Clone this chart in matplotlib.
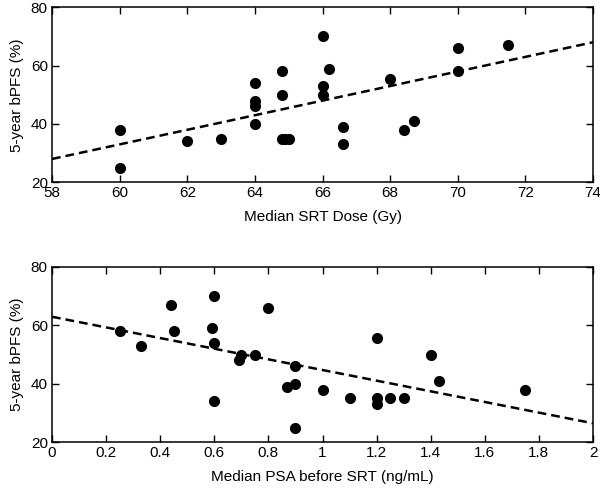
import matplotlib
matplotlib.use("Agg")
import matplotlib.pyplot as plt
import numpy as np

plt.rcParams['font.family'] = ['Liberation Sans', 'DejaVu Sans']

# Top panel: Median SRT dose (Gy) vs 5-year bPFS (%)
dose = [60, 60, 62, 63, 64, 64, 64, 64, 64.8, 64.8, 64.8, 64.9, 65.0,
        66, 66, 66, 66.2, 66.6, 66.6, 68, 68.4, 68.7, 70, 70, 71.5]
bpfs_dose = [38, 25, 34, 35, 54, 48, 46, 40, 58, 50, 35, 35, 35,
             70, 53, 50, 59, 39, 33, 55.5, 38, 41, 66, 58, 67]
dose_fit_slope = 2.5
dose_fit_intercept = -117.0
dose_xlim = [58, 74]
dose_xticks = [58, 60, 62, 64, 66, 68, 70, 72, 74]

# Bottom panel: Median PSA before SRT (ng/mL) vs 5-year bPFS (%)
psa = [0.25, 0.33, 0.44, 0.45, 0.6, 0.59, 0.6, 0.6, 0.8, 0.7, 0.69, 0.75,
       0.9, 0.87, 0.9, 0.9, 1.0, 1.1, 1.2, 1.2, 1.2, 1.25, 1.3, 1.4, 1.43, 1.75]
bpfs_psa = [58, 53, 67, 58, 70, 59, 54, 34, 66, 50, 48, 50,
            46, 39, 40, 25, 38, 35, 55.5, 35, 33, 35, 35, 50, 41, 38]
psa_fit_slope = -18.2
psa_fit_intercept = 62.9
psa_xlim = [0, 2]
psa_xticks = [0, 0.2, 0.4, 0.6, 0.8, 1, 1.2, 1.4, 1.6, 1.8, 2]
psa_xticklabels = ['0', '0.2', '0.4', '0.6', '0.8', '1', '1.2', '1.4', '1.6', '1.8', '2']

yticks = [20, 40, 60, 80]
ylabel = '5-year bPFS (%)'

W, H = 600, 493
fig = plt.figure(figsize=(W / 100, H / 100), dpi=100)

def axbox(l, t, r, b):
    return [l / W, 1 - b / H, (r - l) / W, (b - t) / H]

ax1 = fig.add_axes(axbox(52, 7.3, 593, 182.3))
ax2 = fig.add_axes(axbox(52, 266.7, 593, 442.3))

FS = 11

def style(ax):
    ax.set_ylim(20, 80)
    ax.set_yticks(yticks)
    ax.tick_params(direction='in', top=True, right=True, length=5, width=1,
                   labelsize=FS, pad=3, color='black')
    for s in ax.spines.values():
        s.set_linewidth(1.1)
        s.set_color('black')
    ax.set_ylabel(ylabel, fontsize=FS, labelpad=5)

# top
xs = np.array(dose_xlim, dtype=float)
ax1.plot(xs, dose_fit_slope * xs + dose_fit_intercept, ls=(0, (3.5, 2)),
         color='black', lw=1.8, zorder=2)
ax1.plot(dose, bpfs_dose, 'o', color='black', ms=7, zorder=3)
ax1.set_xlim(*dose_xlim)
ax1.set_xticks(dose_xticks)
style(ax1)
ax1.set_xlabel('Median SRT Dose (Gy)', fontsize=FS, labelpad=7)

# bottom
xs = np.array(psa_xlim, dtype=float)
ax2.plot(xs, psa_fit_slope * xs + psa_fit_intercept, ls=(0, (3.5, 2)),
         color='black', lw=1.8, zorder=2)
ax2.plot(psa, bpfs_psa, 'o', color='black', ms=7, zorder=3)
ax2.set_xlim(*psa_xlim)
ax2.set_xticks(psa_xticks)
ax2.set_xticklabels(psa_xticklabels)
style(ax2)
ax2.set_xlabel('Median PSA before SRT (ng/mL)', fontsize=FS, labelpad=7)

fig.savefig('out.png', dpi=100)
